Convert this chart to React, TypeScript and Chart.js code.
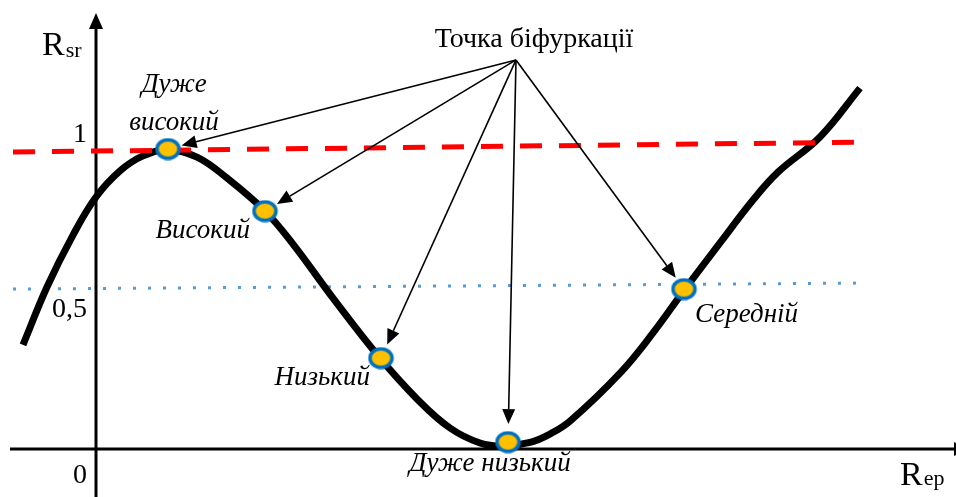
import React, { useEffect, useRef } from "react";
import { Chart, registerables } from "chart.js";

Chart.register(...registerables);

// ---- data (R_ep on x, R_sr on y) ----
const curveX = [-0.73, -0.49, -0.23, 0, 0.24, 0.47, 0.72, 1.01, 1.31, 1.69, 1.97, 2.37, 2.84, 3.21, 3.54, 3.84, 4.07, 4.34, 4.54, 4.74, 5.24, 5.57, 5.89, 6.24, 6.57, 6.82, 7.24, 7.64];
const curveY = [0.347, 0.54, 0.713, 0.84, 0.927, 0.977, 0.997, 0.973, 0.903, 0.793, 0.683, 0.503, 0.303, 0.167, 0.07, 0.02, 0.01, 0.022, 0.05, 0.093, 0.253, 0.387, 0.533, 0.687, 0.83, 0.923, 1.04, 1.203];

const stateNames = ["Дуже\nвисокий", "Високий", "Низький", "Дуже низький", "Середній"];
const stateX = [0.72, 1.69, 2.85, 4.12, 5.88];
const stateY = [1.0, 0.793, 0.303, 0.023, 0.533];

const highLevelX = [-0.83, 7.69];
const highLevelY = [0.99, 1.023];
const midLevelX = [-0.83, 7.62];
const midLevelY = [0.533, 0.553];

const yTickValues = [0, 0.5, 1];
const yTickLabels = ["0", "0,5", "1"];

const bifurcationLabel = "Точка біфуркації";
const bifurcationX = 4.2;
const bifurcationY = 1.297;

const yTitle = ["R", "sr"];
const xTitle = ["R", "ep"];

// ---- layout / style ----
const FONT = '"Liberation Serif", "Times New Roman", serif';
const labelLayout = [
  { dx: 6, dy: -57, align: "center", lh: 38 },
  { dx: -15, dy: 27, align: "right", lh: 0 },
  { dx: -11, dy: 27, align: "right", lh: 0 },
  { dx: -18, dy: 29, align: "center", lh: 0 },
  { dx: 11, dy: 33, align: "left", lh: 0 },
];
const arrowBackoff = [14, 14, 15, 18, 14];
const tickDy = [34, 18, -7];

function makeMarker(): HTMLCanvasElement {
  const c = document.createElement("canvas");
  c.width = 27;
  c.height = 23;
  const g = c.getContext("2d")!;
  g.beginPath();
  g.ellipse(13.5, 11.5, 11, 9.3, 0, 0, Math.PI * 2);
  g.fillStyle = "#FFC000";
  g.fill();
  g.lineWidth = 3.5;
  g.strokeStyle = "#0070C0";
  g.stroke();
  return c;
}

const overlay = {
  id: "overlay",
  beforeDatasetsDraw(chart: any) {
    const { ctx, scales } = chart;
    const xs = scales.x, ys = scales.y;
    const ax = xs.getPixelForValue(0);
    const ay = ys.getPixelForValue(0);
    const W = chart.width, H = chart.height;
    ctx.save();
    ctx.strokeStyle = "#000";
    ctx.fillStyle = "#000";
    ctx.lineWidth = 3;
    // vertical axis
    ctx.beginPath();
    ctx.moveTo(ax, H);
    ctx.lineTo(ax, 26);
    ctx.stroke();
    ctx.beginPath();
    ctx.moveTo(ax, 13);
    ctx.lineTo(ax - 7, 29);
    ctx.lineTo(ax + 7, 29);
    ctx.closePath();
    ctx.fill();
    // horizontal axis
    ctx.beginPath();
    ctx.moveTo(10, ay);
    ctx.lineTo(W - 2, ay);
    ctx.stroke();
    ctx.beginPath();
    ctx.moveTo(W + 12, ay);
    ctx.lineTo(W - 2, ay - 7);
    ctx.lineTo(W - 2, ay + 7);
    ctx.closePath();
    ctx.fill();

    // tick labels
    ctx.font = `28px ${FONT}`;
    ctx.textAlign = "right";
    ctx.textBaseline = "alphabetic";
    yTickValues.forEach((v, i) => {
      ctx.fillText(yTickLabels[i], ax - 9, ys.getPixelForValue(v) + tickDy[i]);
    });

    // axis titles
    ctx.textAlign = "left";
    ctx.font = `34px ${FONT}`;
    const ry = 55;
    ctx.fillText(yTitle[0], ax - 54, ry);
    const rw = ctx.measureText(yTitle[0]).width;
    ctx.font = `22px ${FONT}`;
    ctx.fillText(yTitle[1], ax - 54 + rw + 1, ry + 2);

    ctx.font = `34px ${FONT}`;
    const ex = W - 56;
    const eb = ay + 36;
    ctx.fillText(xTitle[0], ex, eb);
    const rw2 = ctx.measureText(xTitle[0]).width;
    ctx.font = `22px ${FONT}`;
    ctx.fillText(xTitle[1], ex + rw2 + 1, eb);
    ctx.restore();
  },
  afterDatasetsDraw(chart: any) {
    const { ctx, scales } = chart;
    const xs = scales.x, ys = scales.y;
    const ox = xs.getPixelForValue(bifurcationX);
    const oy = ys.getPixelForValue(bifurcationY);
    ctx.save();
    // arrows
    ctx.strokeStyle = "#000";
    ctx.fillStyle = "#000";
    ctx.lineWidth = 1.6;
    stateX.forEach((sx, i) => {
      const px = xs.getPixelForValue(sx);
      const py = ys.getPixelForValue(stateY[i]);
      const dx = px - ox, dy = py - oy;
      const len = Math.hypot(dx, dy);
      const ux = dx / len, uy = dy / len;
      const tx = px - ux * arrowBackoff[i];
      const ty = py - uy * arrowBackoff[i];
      const hl = 15, hw = 6.5;
      const bx = tx - ux * hl, by = ty - uy * hl;
      ctx.beginPath();
      ctx.moveTo(ox, oy);
      ctx.lineTo(bx, by);
      ctx.stroke();
      ctx.beginPath();
      ctx.moveTo(tx, ty);
      ctx.lineTo(bx - uy * hw, by + ux * hw);
      ctx.lineTo(bx + uy * hw, by - ux * hw);
      ctx.closePath();
      ctx.fill();
    });
    // bifurcation label
    ctx.font = `28px ${FONT}`;
    ctx.textAlign = "center";
    ctx.textBaseline = "alphabetic";
    ctx.fillText(bifurcationLabel, ox + 18, oy - 13);
    // state labels
    ctx.font = `italic 27px ${FONT}`;
    stateNames.forEach((name, i) => {
      const L = labelLayout[i];
      const px = xs.getPixelForValue(stateX[i]);
      const py = ys.getPixelForValue(stateY[i]);
      ctx.textAlign = L.align;
      name.split("\n").forEach((line, k) => {
        ctx.fillText(line, px + L.dx, py + L.dy + k * L.lh);
      });
    });
    ctx.restore();
  },
};

export default function App() {
  const ref = useRef<HTMLCanvasElement>(null);
  useEffect(() => {
    if (!ref.current) return;
    const marker = makeMarker();
    const chart = new Chart(ref.current, {
      type: "scatter",
      data: {
        datasets: [
          {
            label: "states",
            data: stateX.map((x, i) => ({ x, y: stateY[i] })),
            pointStyle: marker as any,
            pointRadius: 11,
            showLine: false,
            order: 0,
            clip: false as any,
          },
          {
            label: "high",
            data: highLevelX.map((x, i) => ({ x, y: highLevelY[i] })),
            showLine: true,
            borderColor: "#FF0000",
            borderWidth: 5,
            borderDash: [22, 17],
            pointRadius: 0,
            order: 1,
          },
          {
            label: "curve",
            data: curveX.map((x, i) => ({ x, y: curveY[i] })),
            showLine: true,
            borderColor: "#000000",
            borderWidth: 7,
            pointRadius: 0,
            tension: 0.4,
            borderCapStyle: "butt",
            order: 2,
          },
          {
            label: "mid",
            data: midLevelX.map((x, i) => ({ x, y: midLevelY[i] })),
            showLine: true,
            borderColor: "#5B9BD5",
            borderWidth: 3,
            borderDash: [3, 12],
            pointRadius: 0,
            order: 3,
          },
        ],
      },
      options: {
        animation: false,
        responsive: true,
        maintainAspectRatio: false,
        layout: { padding: 0, autoPadding: false },
        plugins: { legend: { display: false }, tooltip: { enabled: false } },
        events: [],
        scales: {
          x: { type: "linear", min: -0.96, max: 8.6, display: false },
          y: { type: "linear", min: -0.16, max: 1.4967, display: false },
        },
      },
      plugins: [overlay],
    } as any);
    return () => chart.destroy();
  }, []);
  return (
    <div style={{ position: "absolute", left: 0, top: 0, width: 956, height: 497, background: "#fff" }}>
      <canvas ref={ref} />
    </div>
  );
}
